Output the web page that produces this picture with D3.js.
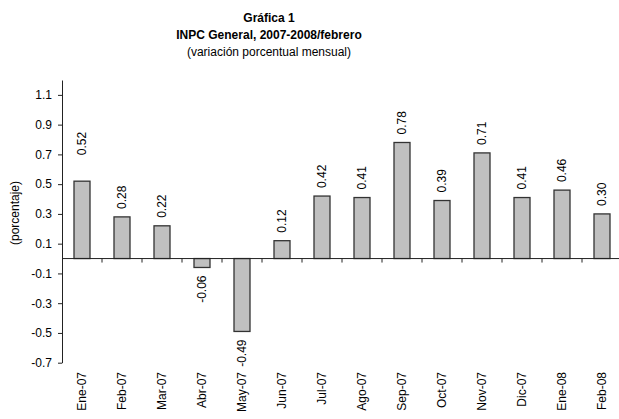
<!DOCTYPE html>
<html>
<head>
<meta charset="utf-8">
<script src="https://cdn.jsdelivr.net/npm/d3@7"></script>
<style>
  body { margin: 0; background: #fff; }
  svg { display: block; font-family: "Liberation Sans", Arial, sans-serif; }
</style>
</head>
<body>
<svg id="chart" width="619" height="419"></svg>
<script>
// Data
const months = ["Ene-07", "Feb-07", "Mar-07", "Abr-07", "May-07", "Jun-07", "Jul-07",
                "Ago-07", "Sep-07", "Oct-07", "Nov-07", "Dic-07", "Ene-08", "Feb-08"];
const values = [0.52, 0.28, 0.22, -0.06, -0.49, 0.12, 0.42, 0.41, 0.78, 0.39, 0.71, 0.41, 0.46, 0.30];
const yTicks = [-0.7, -0.5, -0.3, -0.1, 0.1, 0.3, 0.5, 0.7, 0.9, 1.1];
const titleLines = ["Gráfica 1", "INPC General, 2007-2008/febrero", "(variación porcentual mensual)"];

document.addEventListener("DOMContentLoaded", () => {
    const svg = d3.select("#chart");
    const left = 62, right = 622, top = 80, bottom = 362.7;
    const fs = "12px";

    const xScale = d3.scaleBand().domain(months).range([left, right])
        .paddingInner(0.6).paddingOuter(0.3);
    const yScale = d3.scaleLinear().domain([-0.7, 1.2]).range([bottom, top]);
    // plain hyphen for negatives, like the original
    const locale = d3.formatLocale({ decimal: ".", thousands: ",", grouping: [3], currency: ["", ""], minus: "-" });
    const fmt = locale.format(".2f");

    // Title block
    svg.append("text").attr("x", 269).attr("y", 22).attr("text-anchor", "middle")
        .attr("font-size", fs).attr("font-weight", "bold").text(titleLines[0]);
    svg.append("text").attr("x", 269).attr("y", 39).attr("text-anchor", "middle")
        .attr("font-size", fs).attr("font-weight", "bold").text(titleLines[1]);
    svg.append("text").attr("x", 269).attr("y", 56).attr("text-anchor", "middle")
        .attr("font-size", fs).text(titleLines[2]);

    // Y axis
    const yAxis = d3.axisLeft(yScale)
        .tickValues(yTicks)
        .tickFormat(locale.format(".1f"))
        .tickSize(4)
        .tickSizeOuter(0)
        .tickPadding(6);
    const gy = svg.append("g").attr("transform", `translate(${left},0)`).call(yAxis);
    gy.selectAll("path, line").attr("stroke", "#222");
    gy.selectAll("text").attr("font-size", fs).attr("fill", "#000")
        .attr("font-family", "Liberation Sans, Arial, sans-serif");

    svg.append("text")
        .attr("transform", `translate(15,213) rotate(-90)`)
        .attr("text-anchor", "middle")
        .attr("dy", "0.35em")
        .attr("font-size", fs)
        .text("(porcentaje)");

    // Bars
    svg.selectAll("rect.bar")
        .data(values)
        .enter()
        .append("rect")
        .attr("class", "bar")
        .attr("x", (d, i) => xScale(months[i]))
        .attr("width", xScale.bandwidth())
        .attr("y", d => yScale(Math.max(0, d)))
        .attr("height", d => Math.abs(yScale(d) - yScale(0)))
        .attr("fill", "#c0c0c0")
        .attr("stroke", "#333")
        .attr("stroke-width", 1.3);

    // Zero line with ticks between categories
    const y0 = yScale(0);
    svg.append("line")
        .attr("x1", left).attr("x2", right)
        .attr("y1", y0).attr("y2", y0)
        .attr("stroke", "#222");
    months.forEach((m, i) => {
        if (i === 0) return;
        const xb = xScale(m) + xScale.bandwidth() / 2 - xScale.step() / 2;
        svg.append("line")
            .attr("x1", xb).attr("x2", xb)
            .attr("y1", y0).attr("y2", y0 + 4)
            .attr("stroke", "#222");
    });

    // Value labels (rotated)
    values.forEach((v, i) => {
        const cx = xScale(months[i]) + xScale.bandwidth() / 2;
        const lift = months[i] === "Ene-07" ? 26 : 8;
        const ly = v >= 0 ? yScale(v) - lift : yScale(v) + 8;
        svg.append("text")
            .attr("transform", `translate(${cx},${ly}) rotate(-90)`)
            .attr("text-anchor", v >= 0 ? "start" : "end")
            .attr("dy", "0.35em")
            .attr("font-size", fs)
            .text(fmt(v));
    });

    // Category labels (rotated)
    months.forEach(m => {
        const cx = xScale(m) + xScale.bandwidth() / 2;
        svg.append("text")
            .attr("transform", `translate(${cx},372) rotate(-90)`)
            .attr("text-anchor", "end")
            .attr("dy", "0.35em")
            .attr("font-size", fs)
            .text(m);
    });
});
</script>
</body>
</html>
